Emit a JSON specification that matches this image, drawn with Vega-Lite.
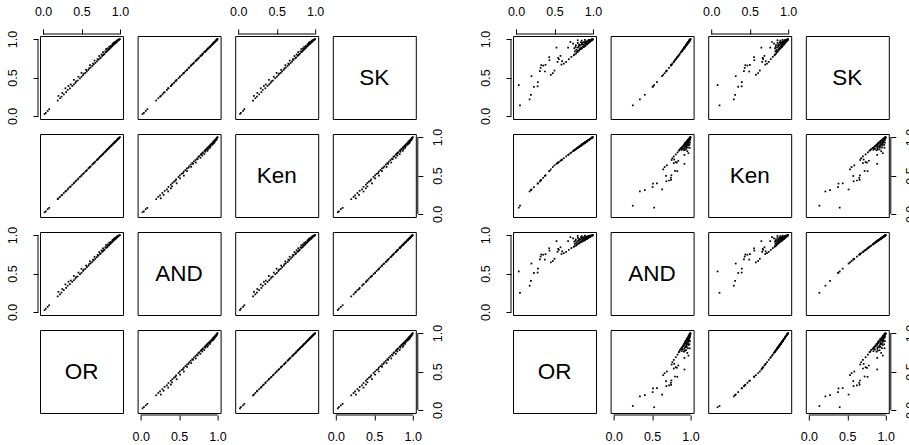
{
  "$schema": "https://vega.github.io/schema/vega-lite/v6.json",
  "padding": {"left": 5, "top": 4, "right": 0, "bottom": 0},
  "background": "white",
  "config": {
    "view": {"stroke": "#000", "strokeWidth": 1},
    "square": {"size": 3, "color": "#000", "opacity": 1},
    "text": {"font": "Liberation Sans", "fontSize": 22.5, "color": "#000"},
    "rule": {"color": "#000", "strokeWidth": 1},
    "axis": {"domain": false, "grid": false, "tickSize": 5, "tickColor": "#000", "labelFont": "Liberation Sans", "labelFontSize": 12.5, "labelColor": "#000", "title": null, "offset": 2, "labelPadding": 10}
  },
  "datasets": {
    "one": [{"k": 1}],
    "L": [
      {"OR":0.02,"SK":0.025,"Ken":0.022,"AND":0.024},
      {"OR":0.035,"SK":0.04,"Ken":0.034,"AND":0.042},
      {"OR":0.06,"SK":0.065,"Ken":0.062,"AND":0.066},
      {"OR":0.08,"SK":0.088,"Ken":0.079,"AND":0.087},
      {"OR":0.19,"SK":0.2,"Ken":0.192,"AND":0.202},
      {"OR":0.2,"SK":0.26,"Ken":0.203,"AND":0.262},
      {"OR":0.22,"SK":0.23,"Ken":0.221,"AND":0.229},
      {"OR":0.24,"SK":0.25,"Ken":0.242,"AND":0.252},
      {"OR":0.25,"SK":0.3,"Ken":0.248,"AND":0.298},
      {"OR":0.27,"SK":0.28,"Ken":0.272,"AND":0.283},
      {"OR":0.29,"SK":0.36,"Ken":0.292,"AND":0.358},
      {"OR":0.3,"SK":0.31,"Ken":0.301,"AND":0.312},
      {"OR":0.32,"SK":0.34,"Ken":0.318,"AND":0.341},
      {"OR":0.33,"SK":0.39,"Ken":0.333,"AND":0.393},
      {"OR":0.35,"SK":0.36,"Ken":0.352,"AND":0.362},
      {"OR":0.36,"SK":0.41,"Ken":0.358,"AND":0.408},
      {"OR":0.38,"SK":0.39,"Ken":0.381,"AND":0.392},
      {"OR":0.4,"SK":0.41,"Ken":0.402,"AND":0.413},
      {"OR":0.4,"SK":0.47,"Ken":0.398,"AND":0.468},
      {"OR":0.42,"SK":0.43,"Ken":0.421,"AND":0.434},
      {"OR":0.43,"SK":0.45,"Ken":0.432,"AND":0.452},
      {"OR":0.45,"SK":0.46,"Ken":0.449,"AND":0.461},
      {"OR":0.46,"SK":0.51,"Ken":0.462,"AND":0.512},
      {"OR":0.48,"SK":0.49,"Ken":0.481,"AND":0.492},
      {"OR":0.5,"SK":0.51,"Ken":0.502,"AND":0.509},
      {"OR":0.5,"SK":0.56,"Ken":0.498,"AND":0.562},
      {"OR":0.52,"SK":0.53,"Ken":0.522,"AND":0.533},
      {"OR":0.53,"SK":0.55,"Ken":0.531,"AND":0.551},
      {"OR":0.55,"SK":0.56,"Ken":0.552,"AND":0.561},
      {"OR":0.56,"SK":0.6,"Ken":0.558,"AND":0.603},
      {"OR":0.57,"SK":0.58,"Ken":0.571,"AND":0.582},
      {"OR":0.59,"SK":0.6,"Ken":0.592,"AND":0.601},
      {"OR":0.6,"SK":0.62,"Ken":0.601,"AND":0.622},
      {"OR":0.61,"SK":0.66,"Ken":0.612,"AND":0.658},
      {"OR":0.62,"SK":0.63,"Ken":0.619,"AND":0.632},
      {"OR":0.64,"SK":0.65,"Ken":0.642,"AND":0.651},
      {"OR":0.65,"SK":0.68,"Ken":0.651,"AND":0.682},
      {"OR":0.66,"SK":0.67,"Ken":0.662,"AND":0.671},
      {"OR":0.67,"SK":0.72,"Ken":0.669,"AND":0.718},
      {"OR":0.68,"SK":0.69,"Ken":0.682,"AND":0.692},
      {"OR":0.7,"SK":0.71,"Ken":0.701,"AND":0.712},
      {"OR":0.71,"SK":0.74,"Ken":0.712,"AND":0.741},
      {"OR":0.72,"SK":0.73,"Ken":0.719,"AND":0.732},
      {"OR":0.73,"SK":0.78,"Ken":0.731,"AND":0.778},
      {"OR":0.74,"SK":0.75,"Ken":0.742,"AND":0.751},
      {"OR":0.75,"SK":0.76,"Ken":0.752,"AND":0.762},
      {"OR":0.76,"SK":0.8,"Ken":0.759,"AND":0.801},
      {"OR":0.77,"SK":0.78,"Ken":0.771,"AND":0.782},
      {"OR":0.78,"SK":0.79,"Ken":0.782,"AND":0.791},
      {"OR":0.78,"SK":0.83,"Ken":0.779,"AND":0.828},
      {"OR":0.79,"SK":0.8,"Ken":0.791,"AND":0.802},
      {"OR":0.8,"SK":0.81,"Ken":0.802,"AND":0.811},
      {"OR":0.81,"SK":0.84,"Ken":0.809,"AND":0.841},
      {"OR":0.82,"SK":0.83,"Ken":0.822,"AND":0.832},
      {"OR":0.82,"SK":0.87,"Ken":0.821,"AND":0.868},
      {"OR":0.83,"SK":0.84,"Ken":0.832,"AND":0.842},
      {"OR":0.84,"SK":0.85,"Ken":0.841,"AND":0.851},
      {"OR":0.84,"SK":0.88,"Ken":0.842,"AND":0.879},
      {"OR":0.85,"SK":0.86,"Ken":0.851,"AND":0.862},
      {"OR":0.86,"SK":0.87,"Ken":0.862,"AND":0.871},
      {"OR":0.86,"SK":0.9,"Ken":0.858,"AND":0.901},
      {"OR":0.87,"SK":0.88,"Ken":0.871,"AND":0.881},
      {"OR":0.88,"SK":0.89,"Ken":0.882,"AND":0.892},
      {"OR":0.88,"SK":0.91,"Ken":0.879,"AND":0.909},
      {"OR":0.89,"SK":0.9,"Ken":0.891,"AND":0.901},
      {"OR":0.9,"SK":0.91,"Ken":0.902,"AND":0.911},
      {"OR":0.9,"SK":0.93,"Ken":0.899,"AND":0.931},
      {"OR":0.91,"SK":0.92,"Ken":0.911,"AND":0.921},
      {"OR":0.91,"SK":0.94,"Ken":0.912,"AND":0.939},
      {"OR":0.92,"SK":0.93,"Ken":0.921,"AND":0.931},
      {"OR":0.92,"SK":0.95,"Ken":0.919,"AND":0.951},
      {"OR":0.93,"SK":0.94,"Ken":0.932,"AND":0.941},
      {"OR":0.93,"SK":0.96,"Ken":0.929,"AND":0.958},
      {"OR":0.94,"SK":0.945,"Ken":0.941,"AND":0.946},
      {"OR":0.94,"SK":0.96,"Ken":0.939,"AND":0.962},
      {"OR":0.95,"SK":0.955,"Ken":0.951,"AND":0.956},
      {"OR":0.95,"SK":0.97,"Ken":0.952,"AND":0.969},
      {"OR":0.96,"SK":0.965,"Ken":0.961,"AND":0.966},
      {"OR":0.96,"SK":0.98,"Ken":0.959,"AND":0.981},
      {"OR":0.97,"SK":0.975,"Ken":0.971,"AND":0.976},
      {"OR":0.97,"SK":0.985,"Ken":0.969,"AND":0.984},
      {"OR":0.98,"SK":0.985,"Ken":0.981,"AND":0.986},
      {"OR":0.98,"SK":0.99,"Ken":0.979,"AND":0.991},
      {"OR":0.99,"SK":0.993,"Ken":0.99,"AND":0.994},
      {"OR":0.99,"SK":0.997,"Ken":0.991,"AND":0.996},
      {"OR":1.0,"SK":1.0,"Ken":1.0,"AND":1.0}
    ],
    "R": [
      {"OR":0.051,"SK":0.137,"Ken":0.107,"AND":0.249},
      {"OR":0.035,"SK":0.401,"Ken":0.082,"AND":0.527},
      {"OR":0.176,"SK":0.215,"Ken":0.293,"AND":0.341},
      {"OR":0.193,"SK":0.275,"Ken":0.31,"AND":0.405},
      {"OR":0.232,"SK":0.379,"Ken":0.35,"AND":0.507},
      {"OR":0.28,"SK":0.385,"Ken":0.395,"AND":0.512},
      {"OR":0.284,"SK":0.44,"Ken":0.398,"AND":0.563},
      {"OR":0.2,"SK":0.517,"Ken":0.318,"AND":0.63},
      {"OR":0.31,"SK":0.582,"Ken":0.425,"AND":0.685},
      {"OR":0.327,"SK":0.66,"Ken":0.443,"AND":0.747},
      {"OR":0.353,"SK":0.655,"Ken":0.47,"AND":0.744},
      {"OR":0.383,"SK":0.665,"Ken":0.503,"AND":0.751},
      {"OR":0.319,"SK":0.625,"Ken":0.435,"AND":0.72},
      {"OR":0.375,"SK":0.578,"Ken":0.494,"AND":0.681},
      {"OR":0.431,"SK":0.764,"Ken":0.556,"AND":0.828},
      {"OR":0.435,"SK":0.725,"Ken":0.56,"AND":0.798},
      {"OR":0.452,"SK":0.535,"Ken":0.58,"AND":0.645},
      {"OR":0.478,"SK":0.556,"Ken":0.61,"AND":0.663},
      {"OR":0.5,"SK":0.591,"Ken":0.632,"AND":0.692},
      {"OR":0.526,"SK":0.889,"Ken":0.652,"AND":0.921},
      {"OR":0.548,"SK":0.755,"Ken":0.669,"AND":0.821},
      {"OR":0.556,"SK":0.738,"Ken":0.675,"AND":0.808},
      {"OR":0.578,"SK":0.781,"Ken":0.692,"AND":0.841},
      {"OR":0.539,"SK":0.703,"Ken":0.662,"AND":0.782},
      {"OR":0.599,"SK":0.712,"Ken":0.708,"AND":0.788},
      {"OR":0.591,"SK":0.668,"Ken":0.702,"AND":0.754},
      {"OR":0.621,"SK":0.681,"Ken":0.725,"AND":0.764},
      {"OR":0.651,"SK":0.703,"Ken":0.748,"AND":0.782},
      {"OR":0.686,"SK":0.738,"Ken":0.774,"AND":0.808},
      {"OR":0.72,"SK":0.768,"Ken":0.8,"AND":0.831},
      {"OR":0.751,"SK":0.789,"Ken":0.823,"AND":0.847},
      {"OR":0.794,"SK":0.833,"Ken":0.855,"AND":0.88},
      {"OR":0.837,"SK":0.867,"Ken":0.886,"AND":0.905},
      {"OR":0.88,"SK":0.897,"Ken":0.917,"AND":0.927},
      {"OR":0.923,"SK":0.932,"Ken":0.946,"AND":0.952},
      {"OR":0.967,"SK":0.971,"Ken":0.977,"AND":0.98},
      {"OR":1.0,"SK":0.997,"Ken":1.0,"AND":0.998},
      {"OR":0.677,"SK":0.889,"Ken":0.768,"AND":0.921},
      {"OR":0.707,"SK":0.962,"Ken":0.79,"AND":0.973},
      {"OR":0.772,"SK":0.897,"Ken":0.838,"AND":0.927},
      {"OR":0.802,"SK":0.984,"Ken":0.861,"AND":0.989},
      {"OR":0.742,"SK":0.941,"Ken":0.816,"AND":0.958},
      {"OR":0.815,"SK":0.919,"Ken":0.87,"AND":0.943},
      {"OR":0.859,"SK":0.941,"Ken":0.902,"AND":0.958},
      {"OR":0.902,"SK":0.962,"Ken":0.932,"AND":0.973},
      {"OR":0.945,"SK":0.984,"Ken":0.962,"AND":0.989},
      {"OR":0.988,"SK":1.0,"Ken":0.992,"AND":1.0},
      {"OR":0.76,"SK":0.8,"Ken":0.83,"AND":0.855},
      {"OR":0.765,"SK":0.84,"Ken":0.834,"AND":0.885},
      {"OR":0.758,"SK":0.88,"Ken":0.829,"AND":0.915},
      {"OR":0.78,"SK":0.81,"Ken":0.844,"AND":0.863},
      {"OR":0.784,"SK":0.86,"Ken":0.847,"AND":0.9},
      {"OR":0.777,"SK":0.92,"Ken":0.842,"AND":0.943},
      {"OR":0.8,"SK":0.83,"Ken":0.859,"AND":0.878},
      {"OR":0.805,"SK":0.85,"Ken":0.863,"AND":0.892},
      {"OR":0.797,"SK":0.89,"Ken":0.857,"AND":0.921},
      {"OR":0.803,"SK":0.95,"Ken":0.862,"AND":0.965},
      {"OR":0.82,"SK":0.85,"Ken":0.874,"AND":0.892},
      {"OR":0.826,"SK":0.87,"Ken":0.878,"AND":0.907},
      {"OR":0.818,"SK":0.9,"Ken":0.873,"AND":0.929},
      {"OR":0.823,"SK":0.93,"Ken":0.876,"AND":0.95},
      {"OR":0.84,"SK":0.87,"Ken":0.888,"AND":0.907},
      {"OR":0.846,"SK":0.89,"Ken":0.892,"AND":0.921},
      {"OR":0.838,"SK":0.92,"Ken":0.887,"AND":0.943},
      {"OR":0.843,"SK":0.96,"Ken":0.89,"AND":0.972},
      {"OR":0.86,"SK":0.88,"Ken":0.903,"AND":0.915},
      {"OR":0.865,"SK":0.9,"Ken":0.906,"AND":0.929},
      {"OR":0.857,"SK":0.93,"Ken":0.901,"AND":0.95},
      {"OR":0.862,"SK":0.95,"Ken":0.904,"AND":0.965},
      {"OR":0.855,"SK":0.98,"Ken":0.899,"AND":0.986},
      {"OR":0.88,"SK":0.9,"Ken":0.917,"AND":0.929},
      {"OR":0.885,"SK":0.91,"Ken":0.92,"AND":0.936},
      {"OR":0.877,"SK":0.93,"Ken":0.915,"AND":0.95},
      {"OR":0.883,"SK":0.96,"Ken":0.919,"AND":0.972},
      {"OR":0.9,"SK":0.91,"Ken":0.93,"AND":0.936},
      {"OR":0.905,"SK":0.93,"Ken":0.934,"AND":0.95},
      {"OR":0.897,"SK":0.94,"Ken":0.928,"AND":0.958},
      {"OR":0.903,"SK":0.97,"Ken":0.932,"AND":0.979},
      {"OR":0.895,"SK":0.99,"Ken":0.927,"AND":0.993},
      {"OR":0.92,"SK":0.93,"Ken":0.944,"AND":0.95},
      {"OR":0.925,"SK":0.94,"Ken":0.947,"AND":0.958},
      {"OR":0.917,"SK":0.95,"Ken":0.942,"AND":0.965},
      {"OR":0.922,"SK":0.97,"Ken":0.945,"AND":0.979},
      {"OR":0.94,"SK":0.945,"Ken":0.958,"AND":0.961},
      {"OR":0.944,"SK":0.955,"Ken":0.961,"AND":0.968},
      {"OR":0.937,"SK":0.97,"Ken":0.956,"AND":0.979},
      {"OR":0.942,"SK":0.985,"Ken":0.959,"AND":0.989},
      {"OR":0.96,"SK":0.962,"Ken":0.972,"AND":0.973},
      {"OR":0.964,"SK":0.97,"Ken":0.975,"AND":0.979},
      {"OR":0.957,"SK":0.98,"Ken":0.97,"AND":0.986},
      {"OR":0.962,"SK":0.99,"Ken":0.973,"AND":0.993},
      {"OR":0.98,"SK":0.98,"Ken":0.986,"AND":0.986},
      {"OR":0.984,"SK":0.985,"Ken":0.989,"AND":0.989},
      {"OR":0.977,"SK":0.99,"Ken":0.984,"AND":0.993},
      {"OR":0.99,"SK":0.99,"Ken":0.993,"AND":0.993},
      {"OR":0.994,"SK":0.995,"Ken":0.996,"AND":0.996}
    ]
  },
  "columns": 9,
  "spacing": {"row": 15, "column": 14.6},
  "bounds": "flush",
  "align": "each",
  "concat": [
    {"width": 83, "height": 83, "layer": [
      {"data": {"name": "L"}, "mark": "square", "encoding": {
        "x": {"field": "OR", "type": "quantitative", "scale": {"domain": [-0.04, 1.04], "nice": false, "zero": false}, "axis": {"orient": "top", "values": [0, 0.5, 1], "format": ".1f", "labelPadding": 11}},
        "y": {"field": "SK", "type": "quantitative", "scale": {"domain": [-0.04, 1.04], "nice": false, "zero": false}, "axis": {"orient": "left", "values": [0, 0.5, 1], "format": ".1f", "labelAngle": -90, "labelAlign": "center", "labelBaseline": "bottom", "labelPadding": 14}}}},
      {"data": {"name": "one"}, "mark": "rule", "encoding": {"x": {"datum": 0}, "x2": {"datum": 1}, "y": {"datum": 1.066}}},
      {"data": {"name": "one"}, "mark": "rule", "encoding": {"y": {"datum": 0}, "y2": {"datum": 1}, "x": {"datum": -0.066}}}
    ]},
    {"width": 83, "height": 83, "data": {"name": "L"}, "mark": "square", "encoding": {
      "x": {"field": "AND", "type": "quantitative", "scale": {"domain": [-0.04, 1.04], "nice": false, "zero": false}, "axis": null},
      "y": {"field": "SK", "type": "quantitative", "scale": {"domain": [-0.04, 1.04], "nice": false, "zero": false}, "axis": null}}},
    {"width": 83, "height": 83, "layer": [
      {"data": {"name": "L"}, "mark": "square", "encoding": {
        "x": {"field": "Ken", "type": "quantitative", "scale": {"domain": [-0.04, 1.04], "nice": false, "zero": false}, "axis": {"orient": "top", "values": [0, 0.5, 1], "format": ".1f", "labelPadding": 11}},
        "y": {"field": "SK", "type": "quantitative", "scale": {"domain": [-0.04, 1.04], "nice": false, "zero": false}, "axis": null}}},
      {"data": {"name": "one"}, "mark": "rule", "encoding": {"x": {"datum": 0}, "x2": {"datum": 1}, "y": {"datum": 1.066}}}
    ]},
    {"width": 83, "height": 83, "data": {"values": [{"lab": "SK"}]}, "mark": "text", "encoding": {
      "text": {"field": "lab"},
      "x": {"datum": 0.5, "scale": {"domain": [-0.04, 1.04], "nice": false, "zero": false}, "axis": null},
      "y": {"datum": 0.5, "scale": {"domain": [-0.04, 1.04], "nice": false, "zero": false}, "axis": null}}},
    {"width": 68, "height": 83, "view": {"stroke": null}, "data": {"values": []}, "mark": "point"},
    {"width": 83, "height": 83, "layer": [
      {"data": {"name": "R"}, "mark": "square", "encoding": {
        "x": {"field": "OR", "type": "quantitative", "scale": {"domain": [-0.04, 1.04], "nice": false, "zero": false}, "axis": {"orient": "top", "values": [0, 0.5, 1], "format": ".1f", "labelPadding": 11}},
        "y": {"field": "SK", "type": "quantitative", "scale": {"domain": [-0.04, 1.04], "nice": false, "zero": false}, "axis": {"orient": "left", "values": [0, 0.5, 1], "format": ".1f", "labelAngle": -90, "labelAlign": "center", "labelBaseline": "bottom", "labelPadding": 14}}}},
      {"data": {"name": "one"}, "mark": "rule", "encoding": {"x": {"datum": 0}, "x2": {"datum": 1}, "y": {"datum": 1.066}}},
      {"data": {"name": "one"}, "mark": "rule", "encoding": {"y": {"datum": 0}, "y2": {"datum": 1}, "x": {"datum": -0.066}}}
    ]},
    {"width": 83, "height": 83, "data": {"name": "R"}, "mark": "square", "encoding": {
      "x": {"field": "AND", "type": "quantitative", "scale": {"domain": [-0.04, 1.04], "nice": false, "zero": false}, "axis": null},
      "y": {"field": "SK", "type": "quantitative", "scale": {"domain": [-0.04, 1.04], "nice": false, "zero": false}, "axis": null}}},
    {"width": 83, "height": 83, "layer": [
      {"data": {"name": "R"}, "mark": "square", "encoding": {
        "x": {"field": "Ken", "type": "quantitative", "scale": {"domain": [-0.04, 1.04], "nice": false, "zero": false}, "axis": {"orient": "top", "values": [0, 0.5, 1], "format": ".1f", "labelPadding": 11}},
        "y": {"field": "SK", "type": "quantitative", "scale": {"domain": [-0.04, 1.04], "nice": false, "zero": false}, "axis": null}}},
      {"data": {"name": "one"}, "mark": "rule", "encoding": {"x": {"datum": 0}, "x2": {"datum": 1}, "y": {"datum": 1.066}}}
    ]},
    {"width": 83, "height": 83, "data": {"values": [{"lab": "SK"}]}, "mark": "text", "encoding": {
      "text": {"field": "lab"},
      "x": {"datum": 0.5, "scale": {"domain": [-0.04, 1.04], "nice": false, "zero": false}, "axis": null},
      "y": {"datum": 0.5, "scale": {"domain": [-0.04, 1.04], "nice": false, "zero": false}, "axis": null}}},

    {"width": 83, "height": 83, "data": {"name": "L"}, "mark": "square", "encoding": {
      "x": {"field": "OR", "type": "quantitative", "scale": {"domain": [-0.04, 1.04], "nice": false, "zero": false}, "axis": null},
      "y": {"field": "Ken", "type": "quantitative", "scale": {"domain": [-0.04, 1.04], "nice": false, "zero": false}, "axis": null}}},
    {"width": 83, "height": 83, "data": {"name": "L"}, "mark": "square", "encoding": {
      "x": {"field": "AND", "type": "quantitative", "scale": {"domain": [-0.04, 1.04], "nice": false, "zero": false}, "axis": null},
      "y": {"field": "Ken", "type": "quantitative", "scale": {"domain": [-0.04, 1.04], "nice": false, "zero": false}, "axis": null}}},
    {"width": 83, "height": 83, "data": {"values": [{"lab": "Ken"}]}, "mark": "text", "encoding": {
      "text": {"field": "lab"},
      "x": {"datum": 0.5, "scale": {"domain": [-0.04, 1.04], "nice": false, "zero": false}, "axis": null},
      "y": {"datum": 0.5, "scale": {"domain": [-0.04, 1.04], "nice": false, "zero": false}, "axis": null}}},
    {"width": 83, "height": 83, "layer": [
      {"data": {"name": "L"}, "mark": "square", "encoding": {
        "x": {"field": "SK", "type": "quantitative", "scale": {"domain": [-0.04, 1.04], "nice": false, "zero": false}, "axis": null},
        "y": {"field": "Ken", "type": "quantitative", "scale": {"domain": [-0.04, 1.04], "nice": false, "zero": false}, "axis": {"orient": "right", "values": [0, 0.5, 1], "format": ".1f", "labelAngle": -90, "labelAlign": "center", "labelBaseline": "top", "labelPadding": 9}}}},
      {"data": {"name": "one"}, "mark": "rule", "encoding": {"y": {"datum": 0}, "y2": {"datum": 1}, "x": {"datum": 1.066}}}
    ]},
    {"width": 68, "height": 83, "view": {"stroke": null}, "data": {"values": []}, "mark": "point"},
    {"width": 83, "height": 83, "data": {"name": "R"}, "mark": "square", "encoding": {
      "x": {"field": "OR", "type": "quantitative", "scale": {"domain": [-0.04, 1.04], "nice": false, "zero": false}, "axis": null},
      "y": {"field": "Ken", "type": "quantitative", "scale": {"domain": [-0.04, 1.04], "nice": false, "zero": false}, "axis": null}}},
    {"width": 83, "height": 83, "data": {"name": "R"}, "mark": "square", "encoding": {
      "x": {"field": "AND", "type": "quantitative", "scale": {"domain": [-0.04, 1.04], "nice": false, "zero": false}, "axis": null},
      "y": {"field": "Ken", "type": "quantitative", "scale": {"domain": [-0.04, 1.04], "nice": false, "zero": false}, "axis": null}}},
    {"width": 83, "height": 83, "data": {"values": [{"lab": "Ken"}]}, "mark": "text", "encoding": {
      "text": {"field": "lab"},
      "x": {"datum": 0.5, "scale": {"domain": [-0.04, 1.04], "nice": false, "zero": false}, "axis": null},
      "y": {"datum": 0.5, "scale": {"domain": [-0.04, 1.04], "nice": false, "zero": false}, "axis": null}}},
    {"width": 83, "height": 83, "layer": [
      {"data": {"name": "R"}, "mark": "square", "encoding": {
        "x": {"field": "SK", "type": "quantitative", "scale": {"domain": [-0.04, 1.04], "nice": false, "zero": false}, "axis": null},
        "y": {"field": "Ken", "type": "quantitative", "scale": {"domain": [-0.04, 1.04], "nice": false, "zero": false}, "axis": {"orient": "right", "values": [0, 0.5, 1], "format": ".1f", "labelAngle": -90, "labelAlign": "center", "labelBaseline": "top", "labelPadding": 9}}}},
      {"data": {"name": "one"}, "mark": "rule", "encoding": {"y": {"datum": 0}, "y2": {"datum": 1}, "x": {"datum": 1.066}}}
    ]},

    {"width": 83, "height": 83, "layer": [
      {"data": {"name": "L"}, "mark": "square", "encoding": {
        "x": {"field": "OR", "type": "quantitative", "scale": {"domain": [-0.04, 1.04], "nice": false, "zero": false}, "axis": null},
        "y": {"field": "AND", "type": "quantitative", "scale": {"domain": [-0.04, 1.04], "nice": false, "zero": false}, "axis": {"orient": "left", "values": [0, 0.5, 1], "format": ".1f", "labelAngle": -90, "labelAlign": "center", "labelBaseline": "bottom", "labelPadding": 14}}}},
      {"data": {"name": "one"}, "mark": "rule", "encoding": {"y": {"datum": 0}, "y2": {"datum": 1}, "x": {"datum": -0.066}}}
    ]},
    {"width": 83, "height": 83, "data": {"values": [{"lab": "AND"}]}, "mark": "text", "encoding": {
      "text": {"field": "lab"},
      "x": {"datum": 0.5, "scale": {"domain": [-0.04, 1.04], "nice": false, "zero": false}, "axis": null},
      "y": {"datum": 0.5, "scale": {"domain": [-0.04, 1.04], "nice": false, "zero": false}, "axis": null}}},
    {"width": 83, "height": 83, "data": {"name": "L"}, "mark": "square", "encoding": {
      "x": {"field": "Ken", "type": "quantitative", "scale": {"domain": [-0.04, 1.04], "nice": false, "zero": false}, "axis": null},
      "y": {"field": "AND", "type": "quantitative", "scale": {"domain": [-0.04, 1.04], "nice": false, "zero": false}, "axis": null}}},
    {"width": 83, "height": 83, "data": {"name": "L"}, "mark": "square", "encoding": {
      "x": {"field": "SK", "type": "quantitative", "scale": {"domain": [-0.04, 1.04], "nice": false, "zero": false}, "axis": null},
      "y": {"field": "AND", "type": "quantitative", "scale": {"domain": [-0.04, 1.04], "nice": false, "zero": false}, "axis": null}}},
    {"width": 68, "height": 83, "view": {"stroke": null}, "data": {"values": []}, "mark": "point"},
    {"width": 83, "height": 83, "layer": [
      {"data": {"name": "R"}, "mark": "square", "encoding": {
        "x": {"field": "OR", "type": "quantitative", "scale": {"domain": [-0.04, 1.04], "nice": false, "zero": false}, "axis": null},
        "y": {"field": "AND", "type": "quantitative", "scale": {"domain": [-0.04, 1.04], "nice": false, "zero": false}, "axis": {"orient": "left", "values": [0, 0.5, 1], "format": ".1f", "labelAngle": -90, "labelAlign": "center", "labelBaseline": "bottom", "labelPadding": 14}}}},
      {"data": {"name": "one"}, "mark": "rule", "encoding": {"y": {"datum": 0}, "y2": {"datum": 1}, "x": {"datum": -0.066}}}
    ]},
    {"width": 83, "height": 83, "data": {"values": [{"lab": "AND"}]}, "mark": "text", "encoding": {
      "text": {"field": "lab"},
      "x": {"datum": 0.5, "scale": {"domain": [-0.04, 1.04], "nice": false, "zero": false}, "axis": null},
      "y": {"datum": 0.5, "scale": {"domain": [-0.04, 1.04], "nice": false, "zero": false}, "axis": null}}},
    {"width": 83, "height": 83, "data": {"name": "R"}, "mark": "square", "encoding": {
      "x": {"field": "Ken", "type": "quantitative", "scale": {"domain": [-0.04, 1.04], "nice": false, "zero": false}, "axis": null},
      "y": {"field": "AND", "type": "quantitative", "scale": {"domain": [-0.04, 1.04], "nice": false, "zero": false}, "axis": null}}},
    {"width": 83, "height": 83, "data": {"name": "R"}, "mark": "square", "encoding": {
      "x": {"field": "SK", "type": "quantitative", "scale": {"domain": [-0.04, 1.04], "nice": false, "zero": false}, "axis": null},
      "y": {"field": "AND", "type": "quantitative", "scale": {"domain": [-0.04, 1.04], "nice": false, "zero": false}, "axis": null}}},

    {"width": 83, "height": 83, "data": {"values": [{"lab": "OR"}]}, "mark": "text", "encoding": {
      "text": {"field": "lab"},
      "x": {"datum": 0.5, "scale": {"domain": [-0.04, 1.04], "nice": false, "zero": false}, "axis": null},
      "y": {"datum": 0.5, "scale": {"domain": [-0.04, 1.04], "nice": false, "zero": false}, "axis": null}}},
    {"width": 83, "height": 83, "layer": [
      {"data": {"name": "L"}, "mark": "square", "encoding": {
        "x": {"field": "AND", "type": "quantitative", "scale": {"domain": [-0.04, 1.04], "nice": false, "zero": false}, "axis": {"orient": "bottom", "values": [0, 0.5, 1], "format": ".1f", "labelPadding": 10}},
        "y": {"field": "OR", "type": "quantitative", "scale": {"domain": [-0.04, 1.04], "nice": false, "zero": false}, "axis": null}}},
      {"data": {"name": "one"}, "mark": "rule", "encoding": {"x": {"datum": 0}, "x2": {"datum": 1}, "y": {"datum": -0.066}}}
    ]},
    {"width": 83, "height": 83, "data": {"name": "L"}, "mark": "square", "encoding": {
      "x": {"field": "Ken", "type": "quantitative", "scale": {"domain": [-0.04, 1.04], "nice": false, "zero": false}, "axis": null},
      "y": {"field": "OR", "type": "quantitative", "scale": {"domain": [-0.04, 1.04], "nice": false, "zero": false}, "axis": null}}},
    {"width": 83, "height": 83, "layer": [
      {"data": {"name": "L"}, "mark": "square", "encoding": {
        "x": {"field": "SK", "type": "quantitative", "scale": {"domain": [-0.04, 1.04], "nice": false, "zero": false}, "axis": {"orient": "bottom", "values": [0, 0.5, 1], "format": ".1f", "labelPadding": 10}},
        "y": {"field": "OR", "type": "quantitative", "scale": {"domain": [-0.04, 1.04], "nice": false, "zero": false}, "axis": {"orient": "right", "values": [0, 0.5, 1], "format": ".1f", "labelAngle": -90, "labelAlign": "center", "labelBaseline": "top", "labelPadding": 9}}}},
      {"data": {"name": "one"}, "mark": "rule", "encoding": {"x": {"datum": 0}, "x2": {"datum": 1}, "y": {"datum": -0.066}}},
      {"data": {"name": "one"}, "mark": "rule", "encoding": {"y": {"datum": 0}, "y2": {"datum": 1}, "x": {"datum": 1.066}}}
    ]},
    {"width": 68, "height": 83, "view": {"stroke": null}, "data": {"values": []}, "mark": "point"},
    {"width": 83, "height": 83, "data": {"values": [{"lab": "OR"}]}, "mark": "text", "encoding": {
      "text": {"field": "lab"},
      "x": {"datum": 0.5, "scale": {"domain": [-0.04, 1.04], "nice": false, "zero": false}, "axis": null},
      "y": {"datum": 0.5, "scale": {"domain": [-0.04, 1.04], "nice": false, "zero": false}, "axis": null}}},
    {"width": 83, "height": 83, "layer": [
      {"data": {"name": "R"}, "mark": "square", "encoding": {
        "x": {"field": "AND", "type": "quantitative", "scale": {"domain": [-0.04, 1.04], "nice": false, "zero": false}, "axis": {"orient": "bottom", "values": [0, 0.5, 1], "format": ".1f", "labelPadding": 10}},
        "y": {"field": "OR", "type": "quantitative", "scale": {"domain": [-0.04, 1.04], "nice": false, "zero": false}, "axis": null}}},
      {"data": {"name": "one"}, "mark": "rule", "encoding": {"x": {"datum": 0}, "x2": {"datum": 1}, "y": {"datum": -0.066}}}
    ]},
    {"width": 83, "height": 83, "data": {"name": "R"}, "mark": "square", "encoding": {
      "x": {"field": "Ken", "type": "quantitative", "scale": {"domain": [-0.04, 1.04], "nice": false, "zero": false}, "axis": null},
      "y": {"field": "OR", "type": "quantitative", "scale": {"domain": [-0.04, 1.04], "nice": false, "zero": false}, "axis": null}}},
    {"width": 83, "height": 83, "layer": [
      {"data": {"name": "R"}, "mark": "square", "encoding": {
        "x": {"field": "SK", "type": "quantitative", "scale": {"domain": [-0.04, 1.04], "nice": false, "zero": false}, "axis": {"orient": "bottom", "values": [0, 0.5, 1], "format": ".1f", "labelPadding": 10}},
        "y": {"field": "OR", "type": "quantitative", "scale": {"domain": [-0.04, 1.04], "nice": false, "zero": false}, "axis": {"orient": "right", "values": [0, 0.5, 1], "format": ".1f", "labelAngle": -90, "labelAlign": "center", "labelBaseline": "top", "labelPadding": 9}}}},
      {"data": {"name": "one"}, "mark": "rule", "encoding": {"x": {"datum": 0}, "x2": {"datum": 1}, "y": {"datum": -0.066}}},
      {"data": {"name": "one"}, "mark": "rule", "encoding": {"y": {"datum": 0}, "y2": {"datum": 1}, "x": {"datum": 1.066}}}
    ]}
  ]
}
